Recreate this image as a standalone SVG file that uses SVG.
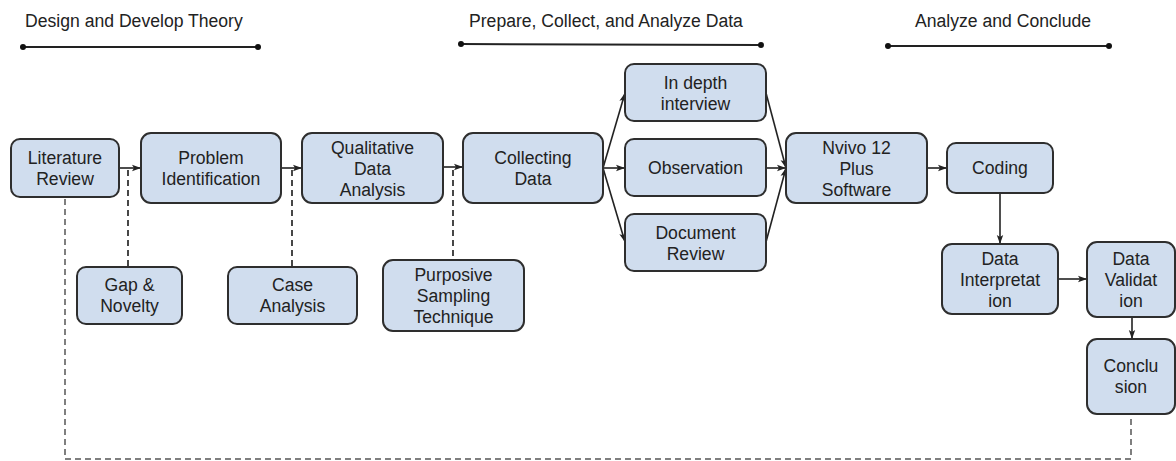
<svg xmlns="http://www.w3.org/2000/svg" width="1176" height="461" viewBox="0 0 1176 461">
  <style>
    .box { fill: #d0ddee; stroke: #2e2e2e; stroke-width: 2; }
    .lbl { font-family: "Liberation Sans", Arial, sans-serif; font-size: 17.6px; fill: #222; text-anchor: middle; }
    .hdr { font-family: "Liberation Sans", Arial, sans-serif; font-size: 17.6px; fill: #222; }
    .phase { stroke: #222; stroke-width: 2; }
    .dot { fill: #111; }
    .arrow { fill: none; stroke: #222; stroke-width: 1.6; marker-end: url(#head); }
    .dash { fill: none; stroke: #333; stroke-width: 1.8; stroke-dasharray: 6 4; }
    .dash-long { fill: none; stroke: #555; stroke-width: 1.5; stroke-dasharray: 6 4; }
  </style>
  <defs>
    <marker id="head" markerUnits="userSpaceOnUse" markerWidth="10" markerHeight="8" refX="9" refY="4" orient="auto">
      <path d="M0,0.8 L9,4 L0,7.2 L2,4 Z" fill="#222"/>
    </marker>
  </defs>

  <rect width="1176" height="461" fill="#ffffff"/>

  <!-- phase headers -->
  <g id="phase-design">
    <text class="hdr" x="25" y="27">Design and Develop Theory</text>
    <line class="phase" x1="23" y1="47" x2="258" y2="47"/>
    <circle class="dot" cx="23" cy="47" r="3"/>
    <circle class="dot" cx="258" cy="47" r="3"/>
  </g>
  <g id="phase-prepare">
    <text class="hdr" x="469" y="27">Prepare, Collect, and Analyze Data</text>
    <line class="phase" x1="461" y1="44" x2="761" y2="45"/>
    <circle class="dot" cx="461" cy="44" r="3"/>
    <circle class="dot" cx="761" cy="45" r="3"/>
  </g>
  <g id="phase-conclude">
    <text class="hdr" x="915" y="27">Analyze and Conclude</text>
    <line class="phase" x1="888" y1="46" x2="1109" y2="46"/>
    <circle class="dot" cx="888" cy="46" r="3"/>
    <circle class="dot" cx="1109" cy="46" r="3"/>
  </g>

  <!-- connectors -->
  <g id="connectors">
    <line class="arrow" x1="119" y1="168" x2="141" y2="168"/>
    <line class="arrow" x1="281" y1="168" x2="302" y2="168"/>
    <line class="arrow" x1="443" y1="167" x2="463" y2="167"/>
    <line class="arrow" x1="603" y1="168" x2="625" y2="93"/>
    <line class="arrow" x1="603" y1="168" x2="625" y2="168"/>
    <line class="arrow" x1="603" y1="168" x2="625" y2="242"/>
    <line class="arrow" x1="766" y1="93" x2="786" y2="168"/>
    <line class="arrow" x1="766" y1="168" x2="786" y2="168"/>
    <line class="arrow" x1="766" y1="242" x2="786" y2="168"/>
    <line class="arrow" x1="927" y1="168" x2="947" y2="168"/>
    <line class="arrow" x1="1000" y1="193" x2="1000" y2="244"/>
    <line class="arrow" x1="1058" y1="279" x2="1087" y2="279"/>
    <line class="arrow" x1="1132" y1="317" x2="1132" y2="339"/>

    <line class="dash" x1="128" y1="170" x2="128" y2="267"/>
    <line class="dash" x1="292" y1="170" x2="292" y2="267"/>
    <line class="dash" x1="453" y1="170" x2="453" y2="260"/>
    <path class="dash-long" d="M65,199 V459 H1131 V415"/>
  </g>

  <!-- nodes -->
  <g id="literature-review">
    <rect class="box" x="11" y="139" width="108" height="58" rx="9"/>
    <text class="lbl" x="65" y="164">Literature</text>
    <text class="lbl" x="65" y="185">Review</text>
  </g>
  <g id="problem-identification">
    <rect class="box" x="141" y="133" width="140" height="70" rx="10"/>
    <text class="lbl" x="211" y="164">Problem</text>
    <text class="lbl" x="211" y="185">Identification</text>
  </g>
  <g id="qualitative-data-analysis">
    <rect class="box" x="302" y="133" width="141" height="70" rx="10"/>
    <text class="lbl" x="372.5" y="154">Qualitative</text>
    <text class="lbl" x="372.5" y="175">Data</text>
    <text class="lbl" x="372.5" y="196">Analysis</text>
  </g>
  <g id="collecting-data">
    <rect class="box" x="463" y="133" width="140" height="70" rx="10"/>
    <text class="lbl" x="533" y="164">Collecting</text>
    <text class="lbl" x="533" y="185">Data</text>
  </g>
  <g id="in-depth-interview">
    <rect class="box" x="625" y="64" width="141" height="57" rx="9"/>
    <text class="lbl" x="695.5" y="89">In depth</text>
    <text class="lbl" x="695.5" y="110">interview</text>
  </g>
  <g id="observation">
    <rect class="box" x="625" y="139" width="141" height="57" rx="9"/>
    <text class="lbl" x="695.5" y="174">Observation</text>
  </g>
  <g id="document-review">
    <rect class="box" x="625" y="214" width="141" height="57" rx="9"/>
    <text class="lbl" x="695.5" y="239">Document</text>
    <text class="lbl" x="695.5" y="260">Review</text>
  </g>
  <g id="nvivo">
    <rect class="box" x="786" y="133" width="141" height="70" rx="10"/>
    <text class="lbl" x="856.5" y="154">Nvivo 12</text>
    <text class="lbl" x="856.5" y="175">Plus</text>
    <text class="lbl" x="856.5" y="196">Software</text>
  </g>
  <g id="coding">
    <rect class="box" x="947" y="143" width="106" height="50" rx="9"/>
    <text class="lbl" x="1000" y="174">Coding</text>
  </g>
  <g id="data-interpretation">
    <rect class="box" x="942" y="244" width="116" height="70" rx="10"/>
    <text class="lbl" x="1000" y="265">Data</text>
    <text class="lbl" x="1000" y="286">Interpretat</text>
    <text class="lbl" x="1000" y="307">ion</text>
  </g>
  <g id="data-validation">
    <rect class="box" x="1087" y="242" width="88" height="75" rx="10"/>
    <text class="lbl" x="1131" y="265">Data</text>
    <text class="lbl" x="1131" y="286">Validat</text>
    <text class="lbl" x="1131" y="307">ion</text>
  </g>
  <g id="conclusion">
    <rect class="box" x="1087" y="339" width="88" height="75" rx="10"/>
    <text class="lbl" x="1131" y="372">Conclu</text>
    <text class="lbl" x="1131" y="393">sion</text>
  </g>
  <g id="gap-novelty">
    <rect class="box" x="77" y="267" width="105" height="57" rx="9"/>
    <text class="lbl" x="129.5" y="291">Gap &amp;</text>
    <text class="lbl" x="129.5" y="312">Novelty</text>
  </g>
  <g id="case-analysis">
    <rect class="box" x="228" y="267" width="129" height="57" rx="9"/>
    <text class="lbl" x="292.5" y="291">Case</text>
    <text class="lbl" x="292.5" y="312">Analysis</text>
  </g>
  <g id="purposive-sampling">
    <rect class="box" x="383" y="260" width="141" height="71" rx="10"/>
    <text class="lbl" x="453.5" y="281">Purposive</text>
    <text class="lbl" x="453.5" y="302">Sampling</text>
    <text class="lbl" x="453.5" y="323">Technique</text>
  </g>
</svg>
